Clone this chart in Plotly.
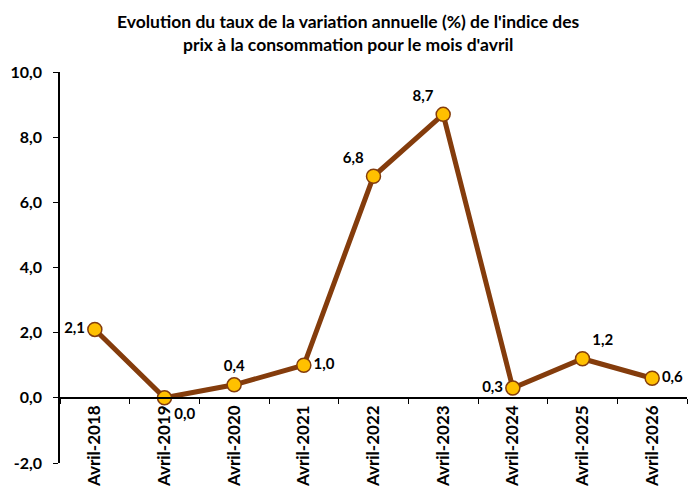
import plotly.graph_objects as go

categories = ["Avril-2018", "Avril-2019", "Avril-2020", "Avril-2021", "Avril-2022",
              "Avril-2023", "Avril-2024", "Avril-2025", "Avril-2026"]
values = [2.1, 0.0, 0.4, 1.0, 6.8, 8.7, 0.3, 1.2, 0.6]
label_pos = ["middle left", "bottom right", "top center", "middle right", "top left",
             "top left", "middle left", "top right", "middle right"]
y_ticks = [-2, 0, 2, 4, 6, 8, 10]
y_tick_text = ["-2,0", "0,0", "2,0", "4,0", "6,0", "8,0", "10,0"]
title_text = ("<b>Evolution du taux de la variation annuelle (%) de l'indice des<br>"
              "prix à la consommation pour le mois d'avril</b>")

FONT = "Lato, Calibri, Liberation Sans, sans-serif"

fig = go.Figure()
fig.add_trace(go.Scatter(
    x=categories, y=values, mode="lines+markers+text",
    line=dict(color="#843C0C", width=5),
    marker=dict(size=14, color="#FFC000", line=dict(color="#843C0C", width=1.5)),
    texttemplate="%{y:.1f}", textposition=label_pos,
    textfont=dict(family=FONT, size=15, color="black", weight="bold"),
    cliponaxis=False, showlegend=False, hoverinfo="skip",
))

fig.add_annotation(
    text=title_text, xref="paper", yref="paper", x=0.46, y=1.0, yshift=63,
    xanchor="center", yanchor="top", showarrow=False, align="center",
    font=dict(family=FONT, size=17.5, color="black"),
)

fig.update_layout(
    width=697, height=488,
    margin=dict(l=60, r=10, t=72, b=25),
    plot_bgcolor="white", paper_bgcolor="white",
    separators=",.",
    font=dict(family=FONT, color="black"),
)
fig.update_yaxes(
    range=[-2, 10], tickvals=y_ticks, ticktext=y_tick_text, automargin=False,
    showgrid=False, zeroline=False, showline=True, linecolor="black", linewidth=1.5,
    ticks="outside", ticklen=5, tickcolor="black", ticklabelstandoff=8,
    tickfont=dict(family=FONT, size=16, color="black", weight="bold"),
)
fig.update_xaxes(
    type="category", range=[-0.5, 8.5], automargin=False,
    anchor="free", position=2/12,
    showgrid=False, zeroline=False, showline=True, linecolor="black", linewidth=1.5,
    ticks="outside", ticklen=5, tickcolor="black", tickson="boundaries",
    tickangle=-90,
    tickfont=dict(family=FONT, size=17, color="black", weight="bold"),
)

fig.write_html("out.html", config={"displayModeBar": False},
               post_script="document.body.style.margin='0';document.body.style.overflow='hidden';")
